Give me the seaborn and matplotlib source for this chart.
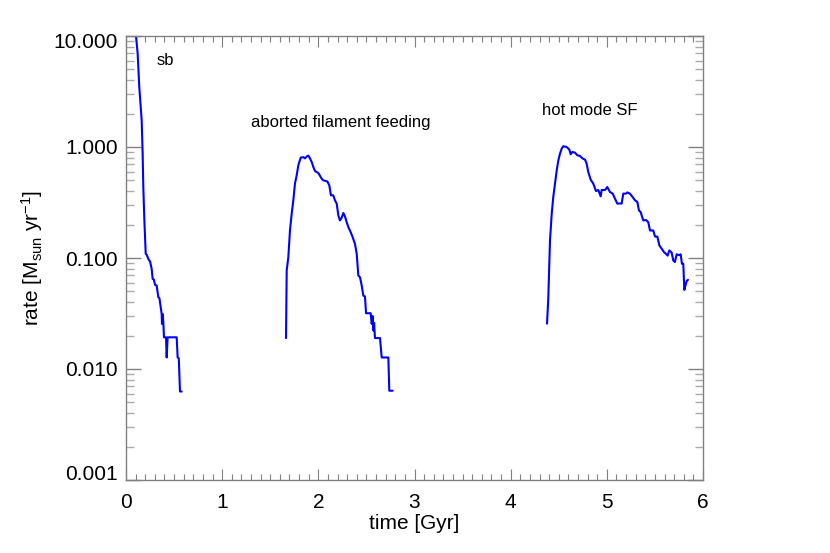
import numpy as np
import pandas as pd
import matplotlib
matplotlib.use("Agg")
import matplotlib.pyplot as plt
import matplotlib.ticker as mticker
import matplotlib.transforms as mtransforms
import seaborn as sns

# --- data ---
sb_time = [0.076, 0.104, 0.121, 0.138, 0.163, 0.173, 0.180, 0.191, 0.205, 0.215,
           0.236, 0.250, 0.267, 0.277, 0.291, 0.302, 0.319, 0.336, 0.347, 0.361,
           0.371, 0.374, 0.381, 0.388, 0.395, 0.416, 0.423, 0.433, 0.527, 0.537,
           0.549, 0.5615, 0.579]
sb_rate = [10.0, 10.0, 6.98, 3.49, 1.74, 0.873, 0.435, 0.218, 0.109, 0.107,
           0.0964, 0.0935, 0.0798, 0.0649, 0.0636, 0.0573, 0.0565, 0.0443, 0.0437, 0.0360,
           0.0313, 0.0255, 0.0313, 0.0263, 0.0193, 0.0193, 0.0127, 0.0193, 0.0193, 0.0127,
           0.0125, 0.00627, 0.00627]

aff_time = [1.664, 1.671, 1.688, 1.705, 1.723, 1.740, 1.757, 1.775, 1.792, 1.817,
            1.844, 1.861, 1.878, 1.896, 1.913, 1.931, 1.948, 1.965, 2.000, 2.034,
            2.051, 2.093, 2.114, 2.131, 2.155, 2.173, 2.191, 2.208, 2.225, 2.243,
            2.260, 2.277, 2.295, 2.312, 2.336, 2.357, 2.381, 2.399, 2.416, 2.433,
            2.451, 2.468, 2.485, 2.496, 2.544, 2.555, 2.565, 2.573, 2.580, 2.589,
            2.641, 2.659, 2.728, 2.738, 2.773]
aff_rate = [0.0190, 0.0771, 0.1017, 0.177, 0.251, 0.331, 0.468, 0.556, 0.685, 0.803,
            0.81, 0.79, 0.82, 0.837, 0.79, 0.733, 0.661, 0.608, 0.583, 0.519,
            0.501, 0.49, 0.452, 0.367, 0.367, 0.331, 0.309, 0.242, 0.218, 0.231,
            0.254, 0.237, 0.210, 0.190, 0.171, 0.154, 0.134, 0.109, 0.0695, 0.0671,
            0.0565, 0.0458, 0.0450, 0.0318, 0.0318, 0.0255, 0.0300, 0.0222, 0.0260, 0.0190,
            0.0190, 0.0127, 0.0127, 0.00637, 0.00637]

hot_time = [4.378, 4.391, 4.409, 4.427, 4.443, 4.461, 4.479, 4.496, 4.513, 4.531,
            4.547, 4.582, 4.610, 4.624, 4.641, 4.668, 4.693, 4.720, 4.749, 4.773,
            4.790, 4.807, 4.832, 4.859, 4.887, 4.911, 4.936, 4.946, 4.981, 5.005,
            5.033, 5.061, 5.085, 5.109, 5.137, 5.154, 5.171, 5.199, 5.213, 5.240,
            5.268, 5.293, 5.317, 5.334, 5.351, 5.379, 5.407, 5.431, 5.449, 5.483,
            5.501, 5.525, 5.546, 5.571, 5.594, 5.615, 5.632, 5.650, 5.674, 5.691,
            5.708, 5.726, 5.754, 5.768, 5.781, 5.795, 5.806, 5.820, 5.830, 5.844]
hot_rate = [0.0256, 0.0428, 0.144, 0.251, 0.354, 0.468, 0.617, 0.759, 0.873, 0.968,
            1.016, 1.0, 0.948, 0.860, 0.902, 0.89, 0.843, 0.83, 0.787, 0.77,
            0.709, 0.595, 0.508, 0.468, 0.401, 0.41, 0.359, 0.41, 0.41, 0.436,
            0.393, 0.38, 0.342, 0.309, 0.31, 0.309, 0.380, 0.38, 0.390, 0.38,
            0.354, 0.331, 0.32, 0.268, 0.26, 0.218, 0.22, 0.210, 0.177, 0.177,
            0.156, 0.156, 0.130, 0.121, 0.113, 0.109, 0.105, 0.117, 0.112, 0.0949,
            0.092, 0.108, 0.106, 0.108, 0.0887, 0.0887, 0.0516, 0.0577, 0.062, 0.0636]

labels = ["sb", "aborted filament feeding", "hot mode SF"]
label_x = [0.41, 2.236, 4.82]
label_y = [6.07, 1.67, 2.15]

x_ticks = [0, 1, 2, 3, 4, 5, 6]
y_ticks = [0.001, 0.01, 0.1, 1.0, 10.0]

df = pd.concat([
    pd.DataFrame({"time": sb_time, "rate": sb_rate, "seg": "sb"}),
    pd.DataFrame({"time": aff_time, "rate": aff_rate, "seg": "aff"}),
    pd.DataFrame({"time": hot_time, "rate": hot_rate, "seg": "hot"}),
], ignore_index=True)

sns.set_style("ticks")
plt.rcParams["font.family"] = ["Liberation Sans", "DejaVu Sans"]
plt.rcParams["mathtext.fontset"] = "custom"
plt.rcParams["mathtext.rm"] = "Liberation Sans"
plt.rcParams["mathtext.it"] = "Liberation Sans"
plt.rcParams["axes.labelcolor"] = "black"
plt.rcParams["text.color"] = "black"

fig = plt.figure(figsize=(8.3, 5.53), dpi=100)
ax = fig.add_axes([126 / 830, 1 - 480 / 553, (703 - 126) / 830, (480 - 36) / 553])

sns.lineplot(data=df, x="time", y="rate", units="seg", estimator=None,
             sort=False, color="#0000ff", linewidth=1.5, ax=ax)

ax.set_yscale("log")
ax.set_xlim(0, 6)
ax.set_ylim(0.001, 10)
ax.set_xticks(x_ticks)
ax.set_xticklabels([str(v) for v in x_ticks])
ax.xaxis.set_minor_locator(mticker.MultipleLocator(0.1))
ax.set_yticks(y_ticks)
ax.set_yticklabels([f"{v:.3f}" for v in y_ticks])
ax.yaxis.set_minor_locator(mticker.LogLocator(base=10, subs=np.arange(2, 10)))
ax.yaxis.set_minor_formatter(mticker.NullFormatter())

grey = "#808080"
for s in ax.spines.values():
    s.set_color(grey)
    s.set_linewidth(1.0)
    s.set_visible(True)
ax.tick_params(which="both", direction="in", top=True, right=True, colors=grey,
               labelcolor="black", labelsize=15)
ax.tick_params(axis="y", which="major", length=11, width=1)
ax.tick_params(axis="y", which="minor", length=6, width=1, colors="#aaaaaa")
ax.tick_params(axis="x", which="major", length=8, width=0.8)
ax.tick_params(axis="x", which="minor", length=4, width=0.8)
ax.tick_params(axis="x", which="major", pad=9)
ax.tick_params(axis="y", which="major", pad=6)

# IDL-like inward shift of the end labels on the y axis
ylabels = ax.get_yticklabels()
ylabels[0].set_transform(ylabels[0].get_transform() +
                         mtransforms.ScaledTranslation(0, 7 / 100, fig.dpi_scale_trans))
ylabels[-1].set_transform(ylabels[-1].get_transform() +
                          mtransforms.ScaledTranslation(0, -5 / 100, fig.dpi_scale_trans))

ax.set_xlabel("time [Gyr]", fontsize=15, labelpad=2, color="black")
ax.set_ylabel(r"rate [M$_{\rm sun}$ yr$^{-1}$]", fontsize=15, labelpad=6, color="black")

for t, x, y in zip(labels, label_x, label_y):
    ax.text(x, y, t, fontsize=12, ha="center", va="center", color="black")

fig.savefig("out.png", dpi=100)
